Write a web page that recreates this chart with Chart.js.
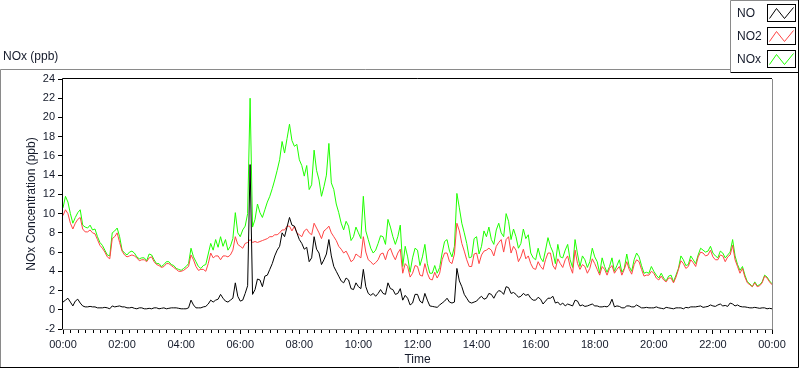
<!DOCTYPE html>
<html>
<head>
<meta charset="utf-8">
<script src="https://cdn.jsdelivr.net/npm/chart.js@4/dist/chart.umd.min.js"></script>
<style>
  html, body { margin: 0; padding: 0; background: #fff; }
  #wrap { width: 800px; height: 369px; position: relative; }
</style>
</head>
<body>
<div id="wrap"><canvas id="nox-chart" width="800" height="369"></canvas></div>
<script>
// one reading every 5 minutes, 00:00 -> 24:00 (one row = one hour)
const STEP_MIN = 5;

const noValues = [
    0.8, 1.0, 1.2, 0.8, 0.4, 0.9, 1.1, 0.7, 0.4, 0.3, 0.3, 0.35,
    0.3, 0.3, 0.2, 0.2, 0.2, 0.25, 0.2, 0.1, 0.4, 0.3, 0.35, 0.4,
    0.3, 0.3, 0.2, 0.2, 0.25, 0.15, 0.1, 0.2, 0.2, 0.1, 0.1, 0.15,
    0.1, 0.2, 0.2, 0.1, 0.15, 0.2, 0.1, 0.15, 0.2, 0.2, 0.2, 0.15,
    0.1, 0.1, 0.1, 0.2, 1.0, 0.5, 0.2, 0.2, 0.2, 0.3, 0.35, 0.6,
    1.0, 0.8, 1.0, 1.1, 1.6, 1.2, 0.9, 0.8, 1.0, 1.2, 2.8, 1.4,
    0.9, 1.0, 1.7, 2.5, 15.1, 1.6, 2.1, 3.2, 3.1, 2.4, 3.5, 3.6,
    4.2, 4.8, 5.6, 6.2, 6.6, 8.0, 7.6, 8.6, 9.6, 8.8, 8.7, 8.0,
    7.3, 6.9, 6.3, 6.5, 5.0, 5.4, 7.6, 6.3, 5.9, 4.7, 5.2, 5.8,
    7.3, 5.6, 4.5, 4.0, 3.5, 3.0, 2.8, 3.3, 3.1, 2.2, 2.1, 2.8,
    2.4, 2.2, 4.2, 2.4, 1.7, 1.5, 1.7, 1.4, 1.7, 2.1, 1.7, 1.6,
    2.8, 2.2, 2.1, 1.6, 1.7, 2.2, 1.0, 1.5, 1.2, 0.5, 0.7, 1.6,
    1.6, 0.9, 0.7, 1.7, 1.0, 0.4, 0.35, 0.3, 0.25, 0.5, 0.7, 0.9,
    1.2, 0.8, 0.7, 0.8, 4.3, 3.0, 2.4, 1.6, 1.2, 0.8, 0.7, 0.8,
    0.9, 1.2, 1.4, 1.1, 1.2, 1.7, 1.6, 1.2, 1.7, 2.0, 1.9, 1.6,
    2.4, 2.3, 1.7, 1.8, 1.6, 1.3, 1.4, 1.7, 1.5, 1.6, 1.2, 1.0,
    1.0, 1.3, 1.1, 0.6, 0.9, 1.2, 1.2, 1.4, 0.7, 0.8, 0.5, 0.7,
    0.4, 0.6, 0.5, 0.4, 1.0, 0.9, 0.4, 0.5, 0.35, 0.4, 0.5, 0.6,
    0.4, 0.4, 0.3, 0.3, 0.35, 0.3, 0.5, 1.1, 0.3, 0.4, 0.35, 0.2,
    0.2, 0.4, 0.4, 0.3, 0.3, 0.5, 0.35, 0.2, 0.2, 0.25, 0.2, 0.2,
    0.2, 0.3, 0.2, 0.15, 0.1, 0.25, 0.2, 0.15, 0.1, 0.2, 0.2, 0.2,
    0.1, 0.25, 0.2, 0.3, 0.3, 0.3, 0.35, 0.4, 0.25, 0.3, 0.35, 0.5,
    0.4, 0.35, 0.5, 0.6, 0.4, 0.45, 0.35, 0.7, 0.6, 0.4, 0.5, 0.35,
    0.3, 0.3, 0.25, 0.2, 0.2, 0.25, 0.2, 0.15, 0.2, 0.2, 0.1, 0.15,
    0.1
];

const no2Values = [
    9.8, 10.4, 10.0, 9.0, 8.4, 9.0, 9.4, 9.6, 8.4, 8.1, 8.1, 8.3,
    8.0, 7.9, 7.3, 6.7, 6.4, 6.0, 5.5, 5.3, 7.4, 7.6, 8.0, 7.0,
    6.1, 5.7, 5.5, 5.6, 5.7, 5.6, 5.4, 5.1, 5.2, 5.2, 5.0, 5.4,
    5.5, 5.0, 4.7, 4.6, 4.4, 4.5, 4.8, 4.8, 4.6, 4.4, 4.2, 4.0,
    4.0, 4.1, 4.3, 4.5, 5.7, 5.2, 4.5, 4.1, 4.2, 4.2, 4.0, 4.8,
    5.9, 5.4, 5.6, 5.6, 5.2, 5.6, 5.6, 5.5, 5.7, 6.2, 7.6, 6.8,
    6.6, 6.4, 6.9, 7.0, 7.3, 7.0, 7.1, 7.0, 7.1, 7.2, 7.3, 7.4,
    7.6, 7.6, 7.8, 7.8, 8.0, 8.3, 8.3, 8.7, 8.7, 8.2, 8.7, 8.0,
    7.8, 7.6, 8.2, 8.4, 8.0, 7.8, 9.0, 8.5, 8.0, 7.4, 8.2, 8.4,
    8.7, 8.0, 7.6, 7.2, 6.6, 6.3, 5.9, 6.1, 5.6, 5.0, 5.2, 5.8,
    5.6, 5.4, 7.6, 6.0, 5.2, 5.0, 4.7, 4.9, 5.2, 5.8, 5.9, 5.2,
    6.1, 6.4, 5.7, 5.2, 5.9, 6.3, 3.8, 4.8, 4.5, 3.4, 3.8, 4.6,
    4.5, 3.6, 3.5, 4.8, 3.8, 3.2, 3.1, 3.9, 3.3, 3.8, 5.2, 5.9,
    5.9, 5.0, 4.8, 5.8, 9.0, 8.2, 6.9, 6.1, 5.2, 4.5, 4.5, 5.8,
    5.9, 4.8, 5.7, 6.1, 6.2, 6.4, 6.2, 5.6, 6.6, 7.0, 7.3, 6.0,
    7.3, 7.6, 5.9, 6.6, 6.2, 5.0, 5.5, 6.3, 5.3, 5.6, 4.8, 4.3,
    4.2, 5.0, 4.5, 4.2, 5.2, 5.9, 5.9, 4.6, 4.2, 5.3, 4.8, 4.4,
    5.2, 5.6, 4.5, 3.8, 6.2, 4.8, 4.2, 4.7, 4.5, 3.8, 4.3, 5.3,
    4.8, 4.2, 3.6, 4.5, 4.2, 3.6, 4.3, 4.6, 3.8, 4.2, 4.5, 3.6,
    4.2, 5.0, 4.2, 3.7, 4.7, 5.2, 5.0, 4.2, 3.5, 3.6, 3.6, 4.0,
    3.8, 3.3, 3.1, 3.5, 3.1, 2.9, 3.3, 3.3, 2.8, 3.4, 4.2, 5.1,
    4.8, 4.3, 4.5, 5.2, 4.9, 4.5, 5.5, 6.0, 5.9, 5.6, 5.7, 6.2,
    5.5, 5.2, 5.2, 5.7, 5.6, 5.0, 5.5, 5.7, 6.7, 5.2, 4.5, 3.8,
    4.3, 3.4, 2.8, 2.6, 2.4, 2.8, 2.4, 2.5, 2.8, 3.5, 3.3, 2.9,
    2.6
];

const noxValues = [
    10.6, 11.8, 11.2, 10.0, 9.0, 9.6, 10.1, 10.4, 8.8, 8.6, 8.5, 8.8,
    8.3, 8.4, 7.6, 7.0, 6.7, 6.2, 5.7, 5.6, 8.0, 8.2, 8.5, 7.6,
    6.2, 5.9, 5.7, 6.0, 6.1, 5.9, 5.5, 5.3, 5.4, 5.4, 5.1, 5.8,
    5.7, 5.2, 4.8, 4.8, 4.5, 4.7, 5.0, 5.0, 4.7, 4.6, 4.3, 4.2,
    4.1, 4.3, 4.5, 4.8, 6.4, 5.5, 5.0, 4.5, 4.3, 4.6, 4.7, 5.8,
    6.9, 6.2, 7.3, 6.5, 7.6, 6.6, 7.3, 6.2, 6.6, 7.4, 10.1, 8.0,
    7.6, 8.3, 8.7, 10.0, 22.0, 8.6, 9.4, 11.0, 10.1, 9.6, 10.4, 11.2,
    11.8, 12.6, 13.5, 14.5, 15.6, 17.5, 16.3, 17.8, 19.3, 17.6, 17.0, 17.2,
    15.6, 15.0, 13.9, 15.0, 12.5, 13.0, 16.6, 14.5, 13.5, 11.8, 12.8, 14.0,
    17.3, 13.2, 12.5, 11.0, 10.1, 9.0, 8.3, 9.2, 8.7, 7.2, 7.6, 8.6,
    8.0, 7.4, 11.8, 8.2, 7.3, 6.4, 5.9, 6.2, 6.9, 7.7, 7.6, 6.8,
    9.4, 8.6, 7.6, 6.8, 7.6, 8.8, 4.5, 6.6, 5.5, 3.9, 5.4, 6.4,
    6.2, 4.6, 5.5, 6.8, 4.8, 3.8, 3.8, 4.6, 3.8, 4.4, 5.9, 7.1,
    7.3, 6.1, 5.5, 6.6, 12.1, 10.6, 9.0, 8.0, 6.9, 5.4, 5.5, 7.4,
    7.6, 5.8, 6.6, 8.2, 7.6, 8.6, 7.3, 6.8, 8.3, 9.0, 8.0, 7.6,
    10.0, 9.2, 7.3, 8.4, 7.6, 6.4, 6.9, 8.4, 7.4, 7.8, 5.9, 5.4,
    5.2, 6.4, 5.4, 5.0, 6.2, 7.5, 6.6, 6.0, 4.8, 6.8, 5.5, 5.4,
    6.2, 6.8, 5.2, 4.4, 7.3, 5.8, 4.5, 5.6, 5.2, 4.4, 5.0, 6.4,
    5.5, 5.0, 3.8, 5.4, 4.5, 3.9, 4.5, 5.4, 4.0, 4.6, 5.2, 3.9,
    4.3, 5.8, 4.5, 4.0, 5.2, 5.9, 5.5, 4.6, 3.8, 3.9, 3.8, 4.5,
    4.0, 3.6, 3.3, 3.8, 3.3, 3.0, 3.5, 3.6, 2.9, 3.6, 4.3, 5.6,
    5.2, 4.6, 4.7, 5.6, 5.2, 4.8, 5.7, 6.4, 6.2, 6.0, 6.1, 6.6,
    5.9, 5.6, 5.4, 6.1, 5.9, 5.4, 5.7, 6.0, 7.3, 5.6, 4.7, 4.1,
    4.5, 3.6, 2.9, 2.7, 2.4, 2.9, 2.5, 2.6, 2.9, 3.6, 3.4, 3.0,
    2.7
];

const yTicks = [-2, 0, 2, 4, 6, 8, 10, 12, 14, 16, 18, 20, 22, 24];
const xTickLabels = ['00:00', '02:00', '04:00', '06:00', '08:00', '10:00', '12:00',
    '14:00', '16:00', '18:00', '20:00', '22:00', '00:00'];

const TEXT = '#141a2a';
const FONT = 'Liberation Sans, Arial, sans-serif';

function toPoints(values) {
    return values.map((v, i) => ({ x: i * STEP_MIN, y: v }));
}

// LabVIEW-like frame, legend box, minor ticks and the panel caption
const panelPlugin = {
    id: 'panel',
    beforeDraw(chart) {
        const ctx = chart.ctx;
        ctx.save();
        ctx.fillStyle = '#fff';
        ctx.fillRect(0, 0, chart.width, chart.height);
        ctx.restore();
    },
    afterDraw(chart) {
        const ctx = chart.ctx;
        const area = chart.chartArea;
        const xScale = chart.scales.x;
        ctx.save();
        ctx.lineWidth = 1;

        // outer frame
        ctx.strokeStyle = '#8a8a8a';
        ctx.beginPath();
        ctx.moveTo(0.5, 368);
        ctx.lineTo(0.5, 69.5);
        ctx.lineTo(730, 69.5);
        ctx.stroke();
        ctx.strokeStyle = '#000';
        ctx.beginPath();
        ctx.moveTo(0, 367.5);
        ctx.lineTo(798.5, 367.5);
        ctx.lineTo(798.5, 0);
        ctx.stroke();

        // plot frame
        ctx.strokeStyle = '#000';
        ctx.beginPath();
        ctx.moveTo(area.left - 0.5, area.bottom);
        ctx.lineTo(area.left - 0.5, area.top - 0.5);
        ctx.lineTo(area.right, area.top - 0.5);
        ctx.stroke();
        ctx.strokeStyle = '#8a8a8a';
        ctx.beginPath();
        ctx.moveTo(area.right + 0.5, area.top);
        ctx.lineTo(area.right + 0.5, area.bottom + 0.5);
        ctx.lineTo(area.left - 1, area.bottom + 0.5);
        ctx.stroke();

        // minor ticks every 15 minutes
        ctx.strokeStyle = '#000';
        ctx.beginPath();
        for (let m = 15; m < 1440; m += 15) {
            if (m % 120 === 0) continue;
            const px = Math.round(xScale.getPixelForValue(m)) + 0.5;
            ctx.moveTo(px, area.bottom + 1);
            ctx.lineTo(px, area.bottom + 4);
        }
        ctx.stroke();

        // panel caption
        ctx.fillStyle = TEXT;
        ctx.font = '12px ' + FONT;
        ctx.textAlign = 'left';
        ctx.textBaseline = 'middle';
        ctx.fillText('NOx (ppb)', 3, 57);

        // legend box
        ctx.fillStyle = '#fff';
        ctx.fillRect(731, 1, 67, 71);
        ctx.strokeStyle = '#8a8a8a';
        ctx.beginPath();
        ctx.moveTo(730.5, 72);
        ctx.lineTo(730.5, 0.5);
        ctx.lineTo(798, 0.5);
        ctx.stroke();
        ctx.strokeStyle = '#000';
        ctx.beginPath();
        ctx.moveTo(730.5, 72.5);
        ctx.lineTo(798.5, 72.5);
        ctx.lineTo(798.5, 0);
        ctx.stroke();

        const rowCenters = [13, 36, 59];
        ctx.font = '12px ' + FONT;
        chart.data.datasets.forEach((ds, i) => {
            const cy = rowCenters[i];
            ctx.fillStyle = TEXT;
            ctx.fillText(ds.label, 737, cy + 0.5);
            const bx = 767.5, by = cy - 8.5, bw = 28, bh = 17;
            ctx.strokeStyle = '#000';
            ctx.strokeRect(bx, by, bw, bh);
            ctx.strokeStyle = ds.borderColor;
            ctx.beginPath();
            ctx.moveTo(bx + 2, by + bh - 3);
            ctx.lineTo(bx + 9, by + 4);
            ctx.lineTo(bx + 17, by + bh - 3);
            ctx.lineTo(bx + 26, by + 3);
            ctx.stroke();
        });

        ctx.restore();
    }
};

const ctx = document.getElementById('nox-chart').getContext('2d');

new Chart(ctx, {
    type: 'line',
    data: {
        datasets: [{
            label: 'NO',
            data: toPoints(noValues),
            borderColor: '#000000',
            borderWidth: 1
        }, {
            label: 'NO2',
            data: toPoints(no2Values),
            borderColor: '#ff4444',
            borderWidth: 1
        }, {
            label: 'NOx',
            data: toPoints(noxValues),
            borderColor: '#1eff00',
            borderWidth: 1
        }]
    },
    options: {
        responsive: false,
        animation: false,
        devicePixelRatio: 1,
        layout: {
            padding: { left: 0, top: 79, right: 28, bottom: 0 }
        },
        elements: {
            point: { radius: 0 },
            line: { tension: 0 }
        },
        plugins: {
            legend: { display: false },
            tooltip: { enabled: false },
            title: { display: false }
        },
        scales: {
            x: {
                type: 'linear',
                min: 0,
                max: 1440,
                afterFit: scale => { scale.height = 40; },
                afterBuildTicks: axis => {
                    axis.ticks = xTickLabels.map((_, i) => ({ value: i * 120 }));
                },
                border: { display: false },
                grid: {
                    drawOnChartArea: false,
                    drawTicks: true,
                    tickLength: 5,
                    color: '#000'
                },
                ticks: {
                    autoSkip: false,
                    maxRotation: 0,
                    padding: 4,
                    color: TEXT,
                    font: { family: FONT, size: 11 },
                    callback: value => xTickLabels[Math.round(value / 120)]
                },
                title: {
                    display: true,
                    text: 'Time',
                    color: TEXT,
                    font: { family: FONT, size: 12 },
                    padding: { top: 0, bottom: 2 }
                }
            },
            y: {
                min: -2,
                max: 24,
                afterFit: scale => { scale.width = 63; },
                afterBuildTicks: axis => {
                    axis.ticks = yTicks.map(v => ({ value: v }));
                },
                border: { display: false },
                grid: {
                    drawOnChartArea: false,
                    drawTicks: true,
                    tickLength: 5,
                    color: '#000'
                },
                ticks: {
                    padding: 3,
                    color: TEXT,
                    font: { family: FONT, size: 11 }
                },
                title: {
                    display: true,
                    text: 'NOx Concentration (ppb)',
                    color: TEXT,
                    font: { family: FONT, size: 12 },
                    padding: { top: 24, bottom: 0 }
                }
            }
        }
    },
    plugins: [panelPlugin]
});
</script>
</body>
</html>
